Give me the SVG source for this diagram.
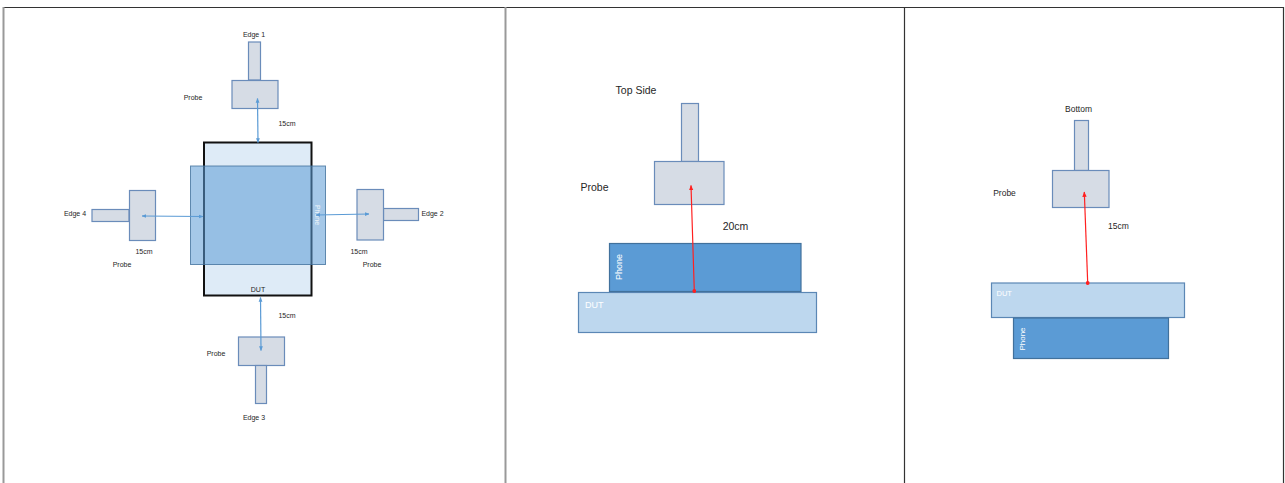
<svg xmlns="http://www.w3.org/2000/svg" width="1285" height="483" viewBox="0 0 1285 483">
<style>
text{font-family:"Liberation Sans",Arial,sans-serif;fill:#262626}
.s7{font-size:7px}
.s85{font-size:8.5px}
.s105{font-size:10.5px}
.probe{fill:#D6DCE5;stroke:#6A8CBA;stroke-width:1.2}
.dut1{fill:#DEEBF7;stroke:#111;stroke-width:2}
.phone1{fill:#5B9BD5;fill-opacity:0.55;stroke:#41719C;stroke-opacity:0.8;stroke-width:1}
.phone{fill:#5B9BD5;stroke:#41719C;stroke-width:1.2}
.dut{fill:#BDD7EE;stroke:#5B87B5;stroke-width:1.2}
.blue{stroke:#5B9BD5;stroke-width:1.2;fill:none;marker-start:url(#ab);marker-end:url(#ab)}
.red{stroke:#FF2020;stroke-width:1.2;fill:none;marker-start:url(#rd);marker-end:url(#ar)}
.wt{fill:#FFFFFF}
</style>
<defs>
<marker id="ab" viewBox="0 0 10 10" refX="9" refY="5" markerWidth="4" markerHeight="4" orient="auto-start-reverse"><path d="M0,1 L10,5 L0,9 Z" fill="#5B9BD5"/></marker>
<marker id="ar" viewBox="0 0 10 10" refX="9" refY="5" markerWidth="4.5" markerHeight="4.5" orient="auto"><path d="M0,1 L10,5 L0,9 Z" fill="#FF2020"/></marker>
<marker id="rd" viewBox="0 0 10 10" refX="5" refY="5" markerWidth="3.5" markerHeight="3.5"><circle cx="5" cy="5" r="4.5" fill="#FF2020"/></marker>
</defs>

<g id="frame" fill="none">
<line x1="3" y1="7.5" x2="1284" y2="7.5" stroke="#333" stroke-width="1.2"/>
<line x1="3.5" y1="7" x2="3.5" y2="483" stroke="#999" stroke-width="2"/>
<line x1="505.5" y1="7" x2="505.5" y2="483" stroke="#999" stroke-width="2"/>
<line x1="904.5" y1="7" x2="904.5" y2="483" stroke="#333" stroke-width="1.2"/>
<line x1="1283.5" y1="7" x2="1283.5" y2="483" stroke="#333" stroke-width="1.2"/>
</g>

<!-- Panel 1 -->
<g id="dut1"><rect class="dut1" x="204" y="142.5" width="107.5" height="153"/><text class="s7" x="258" y="291.5" text-anchor="middle">DUT</text></g>
<g id="phone1"><rect class="phone1" x="190.5" y="166" width="135" height="98.5"/><text class="s7 wt" transform="translate(314.5,215) rotate(90)" text-anchor="middle" fill-opacity="0.85">Phone</text></g>

<g id="edge1"><rect class="probe" x="248.5" y="42" width="12" height="38"/><text class="s7" x="254" y="36.5" text-anchor="middle">Edge 1</text></g>
<g id="probe1"><rect class="probe" x="232" y="80.5" width="46" height="28"/><text class="s7" x="193" y="100" text-anchor="middle">Probe</text></g>

<g id="edge4"><rect class="probe" x="92" y="209.5" width="37" height="12"/><text class="s7" x="75" y="215.5" text-anchor="middle">Edge 4</text></g>
<g id="probe4"><rect class="probe" x="129.5" y="190.5" width="26" height="50"/><text class="s7" x="122" y="266.5" text-anchor="middle">Probe</text></g>

<g id="edge2"><rect class="probe" x="383.5" y="208.5" width="35" height="12"/><text class="s7" x="432.5" y="215.5" text-anchor="middle">Edge 2</text></g>
<g id="probe2"><rect class="probe" x="357" y="189.5" width="26.5" height="50.5"/><text class="s7" x="372" y="266.5" text-anchor="middle">Probe</text></g>

<g id="probe3"><rect class="probe" x="238.5" y="337" width="46" height="28.5"/><text class="s7" x="216" y="355.5" text-anchor="middle">Probe</text></g>
<g id="edge3"><rect class="probe" x="255.5" y="365.5" width="11" height="38"/><text class="s7" x="254" y="419.5" text-anchor="middle">Edge 3</text></g>

<g id="labels1">
<text class="s7" x="287" y="126" text-anchor="middle">15cm</text>
<text class="s7" x="144" y="253.5" text-anchor="middle">15cm</text>
<text class="s7" x="359" y="253.5" text-anchor="middle">15cm</text>
<text class="s7" x="287" y="317.5" text-anchor="middle">15cm</text>
</g>

<!-- Panel 2 -->
<g id="probe-top"><rect class="probe" x="681.5" y="103.5" width="17" height="58"/><rect class="probe" x="654.5" y="161.5" width="69.5" height="43"/><text class="s105" x="636" y="94" text-anchor="middle">Top Side</text><text class="s105" x="594.5" y="190.5" text-anchor="middle">Probe</text></g>
<g id="dut2"><rect class="dut" x="578.5" y="292.5" width="238" height="40"/><text class="wt" style="font-size:9px" x="585" y="307.5">DUT</text></g>
<g id="phone2"><rect class="phone" x="609.5" y="243.5" width="191.5" height="48"/><text class="wt" style="font-size:9px" transform="translate(622,267) rotate(-90)" text-anchor="middle">Phone</text></g>
<text class="s105" x="735.5" y="229.5" text-anchor="middle">20cm</text>

<!-- Panel 3 -->
<g id="probe-bottom"><rect class="probe" x="1074.5" y="120.5" width="14" height="50"/><rect class="probe" x="1052.5" y="170.5" width="56.5" height="37"/><text class="s85" x="1078.5" y="112" text-anchor="middle">Bottom</text><text class="s85" x="1004.5" y="195.5" text-anchor="middle">Probe</text></g>
<g id="dut3"><rect class="dut" x="991.5" y="283" width="193" height="34.5"/><text class="wt" style="font-size:7.5px" x="996.5" y="296">DUT</text></g>
<g id="phone3"><rect class="phone" x="1013.5" y="318" width="155" height="40.5"/><text class="wt" style="font-size:8px" transform="translate(1024.5,339) rotate(-90)" text-anchor="middle">Phone</text></g>
<text class="s85" x="1118.5" y="228.5" text-anchor="middle">15cm</text>

<g id="connectors">
<line class="blue" x1="258" y1="142.5" x2="257.5" y2="98.5"/>
<line class="blue" x1="203" y1="216.5" x2="142" y2="216"/>
<line class="blue" x1="316" y1="215" x2="369" y2="214"/>
<line class="blue" x1="260.5" y1="297.5" x2="261" y2="350.5"/>
<line class="red" x1="694.3" y1="291" x2="691" y2="185.5"/>
<line class="red" x1="1087.7" y1="283" x2="1084.3" y2="192"/>
</g>
</svg>
